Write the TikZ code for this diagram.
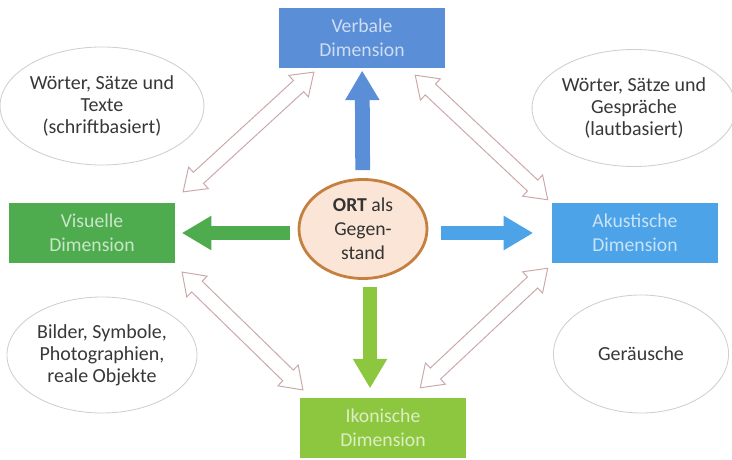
\documentclass[tikz,border=0pt]{standalone}
\usepackage{fontspec}
\setmainfont{Carlito}
\usetikzlibrary{shapes.geometric,shapes.arrows,arrows.meta,calc}

\definecolor{verbalblue}{HTML}{5A8ED6}
\definecolor{akublue}{HTML}{4CA3E8}
\definecolor{visgreen}{HTML}{4EAB4E}
\definecolor{ikogreen}{HTML}{8DC63F}
\definecolor{ortfill}{HTML}{FBE5D6}
\definecolor{ortline}{HTML}{C5803F}
\definecolor{arrowline}{HTML}{CBA9AA}
\definecolor{ovalline}{HTML}{CFCFCF}
\definecolor{textgray}{HTML}{383838}

% hollow double arrow between two points
\newcommand{\hollowarrow}[2]{%
  \path let \p1 = ($(#2)-(#1)$) in
    node[hollow, minimum height={veclen(\x1,\y1)}, rotate={atan2(\y1,\x1)}]
    at ($(#1)!0.5!(#2)$) {};}

\begin{document}
\begin{tikzpicture}[x=0.025cm, y=-0.025cm]
	% Define styles for the nodes and arrows
	\tikzstyle{dimbox} = [rectangle, minimum width=4.125cm, minimum height=1.475cm, align=center, font=\fontsize{14}{17}\selectfont]
	\tikzstyle{oval} = [ellipse, draw=ovalline, line width=0.6pt, fill=white, text=textgray, align=center, inner sep=0pt, font=\fontsize{14.2}{15.6}\selectfont]
	\tikzstyle{hollow} = [double arrow, draw=arrowline, line width=0.7pt, fill=white, inner sep=5pt, double arrow head extend=5pt, double arrow tip angle=70]
	\tikzstyle{fatarrow} = [line width=10.5pt, -{Triangle[length=21pt,width=23pt]}]

	\useasboundingbox (0,0) rectangle (732,460);

	% Define the dimension boxes with positions
	\node[dimbox, fill=verbalblue, text=verbalblue!30!white] (verbal) at (362,38) {Verbale\\Dimension};
	\node[dimbox, fill=visgreen, text=visgreen!30!white] (visual) at (92,233) {Visuelle\\Dimension};
	\node[dimbox, fill=akublue, text=akublue!30!white] (acoustic) at (635,233) {Akustische\\Dimension};
	\node[dimbox, fill=ikogreen, text=ikogreen!30!white] (iconic) at (383,428) {Ikonische\\Dimension};

	% The centre
	\node[ellipse, draw=ortline, line width=2pt, fill=ortfill, minimum width=3.2cm, minimum height=2.475cm, inner sep=0pt, align=center, text=black!80, font=\fontsize{14}{17}\selectfont] (ort) at (363,229) {\textbf{ORT} als\\Gegen-\\stand};

	% The ovals
	\node[oval, minimum width=4.75cm, minimum height=2.95cm] (written) at (102,106) {Wörter, Sätze und\\Texte\\(schriftbasiert)};
	\node[oval, minimum width=4.625cm, minimum height=2.925cm] (spoken) at (634,108) {Wörter, Sätze und\\Gespräche\\(lautbasiert)};
	\node[oval, minimum width=4.75cm, minimum height=2.9cm] (images) at (102,355) {Bilder, Symbole,\\Photographien,\\reale Objekte};
	\node[oval, minimum width=4.375cm, minimum height=2.95cm] (noises) at (641,354) {Geräusche};

	% End points of the hollow arrows
	\coordinate (vis-ne) at (183,192);
	\coordinate (verb-sw) at (314,72);
	\coordinate (verb-se) at (415,75);
	\coordinate (aku-nw) at (548,200);
	\coordinate (vis-se) at (182,272);
	\coordinate (iko-nw) at (303,390);
	\coordinate (iko-ne) at (420,388);
	\coordinate (aku-sw) at (548,268);

	% Draw the hollow arrows
	\hollowarrow{vis-ne}{verb-sw}
	\hollowarrow{verb-se}{aku-nw}
	\hollowarrow{vis-se}{iko-nw}
	\hollowarrow{iko-ne}{aku-sw}

	% Draw the arrows out of the centre
	\draw[fatarrow, verbalblue, shorten <=5.7pt, shorten >=2pt] (ort) -- (verbal);
	\draw[fatarrow, visgreen, shorten <=5.7pt, shorten >=5pt] (ort.west |- visual) -- (visual.east);
	\draw[fatarrow, akublue, shorten <=9pt, shorten >=13.5pt] (ort.east |- acoustic) -- (acoustic.west);
	\draw[fatarrow, ikogreen, shorten <=5pt, shorten >=7pt] ([xshift=5pt]ort.south) -- ([xshift=5pt]ort.south |- iconic.north);

\end{tikzpicture}
\end{document}
